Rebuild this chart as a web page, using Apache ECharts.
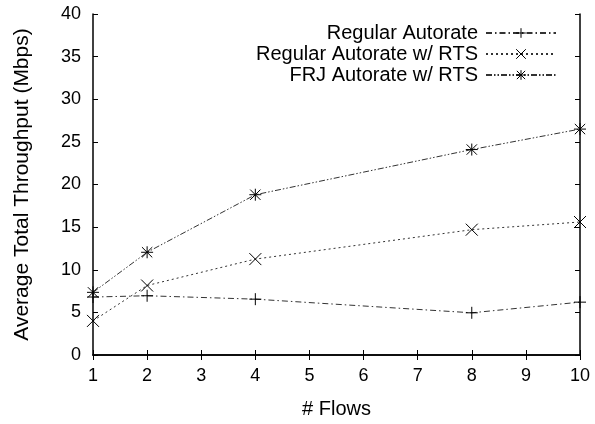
<!DOCTYPE html>
<html>
<head>
<meta charset="utf-8">
<script src="https://cdn.jsdelivr.net/npm/echarts@6/dist/echarts.min.js"></script>
<style>
  html, body { margin: 0; padding: 0; background: #fff; }
  #chart { width: 595px; height: 424px; }
</style>
</head>
<body>
<div id="chart"></div>
<script>
// Number of flows on the x axis
const flows = [1, 2, 4, 8, 10];

// Average total throughput (Mbps) per configuration
const regularAutorate = [6.8, 6.95, 6.55, 4.95, 6.2];
const regularAutorateRTS = [4.0, 8.15, 11.25, 14.7, 15.6];
const frjAutorateRTS = [7.35, 12.05, 18.8, 24.1, 26.5];

const seriesNames = [
  'Regular Autorate',
  'Regular Autorate w/ RTS',
  'FRJ Autorate w/ RTS'
];

// Marker shapes: plus, cross, star
const plusPath = 'path://M5,0 L5,10 M0,5 L10,5';
const crossPath = 'path://M0,0 L10,10 M10,0 L0,10';
const starPath = 'path://M5,0 L5,10 M0,5 L10,5 M0.7,0.7 L9.3,9.3 M9.3,0.7 L0.7,9.3';

const font = '"Liberation Sans", Arial, Helvetica, sans-serif';
const ink = '#000';
const lineInk = '#333';

function makeSeries(name, values, symbol, dash) {
  return {
    name: name,
    type: 'line',
    data: flows.map((f, i) => [f, values[i]]),
    symbol: symbol,
    symbolSize: 12,
    showAllSymbol: true,
    lineStyle: { color: lineInk, width: 1, type: dash },
    itemStyle: { color: 'none', borderColor: ink, borderWidth: 1 },
    emphasis: { disabled: true },
    animation: false
  };
}

const chart = echarts.init(document.getElementById('chart'), null, { renderer: 'canvas' });

const tickInside = { inside: true, length: 5, lineStyle: { color: ink, width: 1 } };

chart.setOption({
  backgroundColor: '#fff',
  animation: false,
  textStyle: { fontFamily: font },
  grid: { left: 93, right: 15, top: 14, bottom: 67, containLabel: false },
  legend: {
    orient: 'vertical',
    right: 33,
    top: 18,
    align: 'right',
    itemWidth: 70,
    itemHeight: 12,
    itemGap: 1,
    itemStyle: { color: 'none', borderColor: ink, borderWidth: 1 },
    textStyle: { fontFamily: font, fontSize: 20, lineHeight: 20, color: ink, padding: [0, 3, 0, 0] },
    data: seriesNames
  },
  xAxis: [
    {
      type: 'value',
      min: 1,
      max: 10,
      interval: 1,
      name: '# Flows',
      nameLocation: 'middle',
      nameGap: 44,
      nameTextStyle: { fontFamily: font, fontSize: 20, color: ink },
      axisLine: { lineStyle: { color: ink, width: 1.5 } },
      axisTick: tickInside,
      axisLabel: { fontFamily: font, fontSize: 18, color: ink, margin: 12 },
      splitLine: { show: false }
    },
    {
      type: 'value',
      position: 'top',
      min: 1,
      max: 10,
      interval: 1,
      axisLine: { show: true, lineStyle: { color: ink, width: 1.5 } },
      axisTick: tickInside,
      axisLabel: { show: false },
      splitLine: { show: false }
    }
  ],
  yAxis: [
    {
      type: 'value',
      min: 0,
      max: 40,
      interval: 5,
      name: 'Average Total Throughput (Mbps)',
      nameLocation: 'middle',
      nameGap: 60,
      nameTextStyle: { fontFamily: font, fontSize: 21, color: ink },
      axisLine: { show: true, lineStyle: { color: ink, width: 1.5 } },
      axisTick: { show: true, inside: true, length: 5, lineStyle: { color: ink, width: 1 } },
      axisLabel: { fontFamily: font, fontSize: 18, color: ink, margin: 12 },
      splitLine: { show: false }
    },
    {
      type: 'value',
      position: 'right',
      min: 0,
      max: 40,
      interval: 5,
      axisLine: { show: true, lineStyle: { color: ink, width: 1.5 } },
      axisTick: { show: true, inside: true, length: 5, lineStyle: { color: ink, width: 1 } },
      axisLabel: { show: false },
      splitLine: { show: false }
    }
  ],
  series: [
    makeSeries(seriesNames[0], regularAutorate, plusPath, [6, 3, 1.5, 3]),
    makeSeries(seriesNames[1], regularAutorateRTS, crossPath, [2, 3]),
    makeSeries(seriesNames[2], frjAutorateRTS, starPath, [6, 2, 1.5, 2, 1.5, 2])
  ]
});
</script>
</body>
</html>
